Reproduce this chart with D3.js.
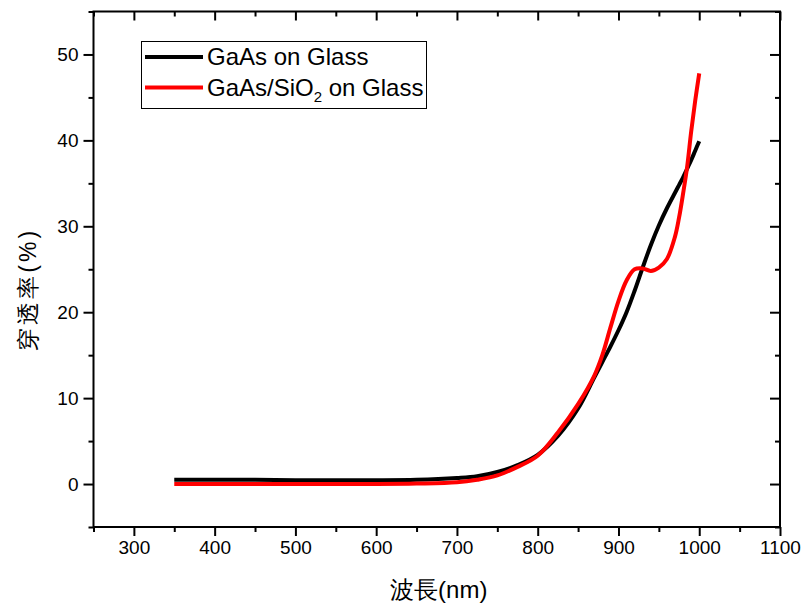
<!DOCTYPE html>
<html>
<head>
<meta charset="utf-8">
<script src="https://cdn.jsdelivr.net/npm/d3@7"></script>
<style>
  body { margin: 0; background: #fff; }
  text { font-family: Arial, "Liberation Sans", sans-serif; }
</style>
</head>
<body>
<script>
// wavelengths (nm) and transmittance (%)
const wavelength = [350, 400, 450, 500, 550, 600, 650, 700, 725, 750, 775, 800, 825, 850, 870, 880, 890, 900, 910, 920, 930, 940, 950, 960, 970, 975, 980, 985, 990, 995, 1000]
const gaasGlass = [0.5, 0.5, 0.5, 0.45, 0.45, 0.45, 0.5, 0.7, 0.9, 1.4, 2.2, 3.4, 5.6, 8.8, 12.4, 14.2, 16.0, 17.9, 20.0, 22.5, 25.2, 27.8, 30.1, 32.1, 33.9, 34.8, 35.7, 36.7, 37.7, 38.8, 39.9]
const gaasSiO2Glass = [0.0, 0.0, 0.0, 0.0, 0.0, 0.0, 0.05, 0.2, 0.5, 1.0, 2.0, 3.3, 6.0, 9.3, 12.6, 15.0, 18.2, 21.3, 23.7, 25.0, 25.1, 24.8, 25.2, 26.2, 28.8, 31.0, 33.8, 36.9, 41.0, 44.6, 47.8]
const seriesNames = ["GaAs on Glass", "GaAs/SiO2 on Glass"]
const seriesColors = ["#000000", "#ff0000"]
const xTicks = [300, 400, 500, 600, 700, 800, 900, 1000, 1100]
const yTicks = [0, 10, 20, 30, 40, 50]

const width = 808
const height = 605
const mLeft = 93.5, mRight = 780, mTop = 11.5, mBottom = 527

const svg = d3.select("body").append("svg")
    .attr("width", width)
    .attr("height", height)

const x = d3.scaleLinear().domain([250, 1100]).range([mLeft, mRight])
const y = d3.scaleLinear().domain([-5, 55]).range([mBottom, mTop])

const xMinor = d3.range(250, 1101, 50).filter(v => v % 100 !== 0)
const yMinor = d3.range(-5, 56, 5).filter(v => v % 10 !== 0)

function styleAxis(g) {
    g.select(".domain").remove()
    g.selectAll("line").attr("stroke", "#000").attr("stroke-width", 2)
    g.selectAll("text").attr("font-size", 19).attr("fill", "#000")
        .attr("font-family", "Arial, 'Liberation Sans', sans-serif")
}

// bottom
svg.append("g").attr("transform", `translate(0,${mBottom})`)
    .call(d3.axisBottom(x).tickValues(xTicks).tickFormat(d3.format("d")).tickSize(9).tickSizeOuter(0).tickPadding(5))
    .call(styleAxis)
svg.append("g").attr("transform", `translate(0,${mBottom})`)
    .call(d3.axisBottom(x).tickValues(xMinor).tickSize(5).tickFormat(""))
    .call(styleAxis)
// top (inward)
svg.append("g").attr("transform", `translate(0,${mTop})`)
    .call(d3.axisTop(x).tickValues(xTicks).tickSize(-9).tickFormat(""))
    .call(styleAxis)
svg.append("g").attr("transform", `translate(0,${mTop})`)
    .call(d3.axisTop(x).tickValues(xMinor).tickSize(-5).tickFormat(""))
    .call(styleAxis)
// left
svg.append("g").attr("transform", `translate(${mLeft},0)`)
    .call(d3.axisLeft(y).tickValues(yTicks).tickFormat(d3.format("d")).tickSize(10).tickSizeOuter(0).tickPadding(5))
    .call(styleAxis)
svg.append("g").attr("transform", `translate(${mLeft},0)`)
    .call(d3.axisLeft(y).tickValues(yMinor).tickSize(5).tickFormat(""))
    .call(styleAxis)
// right (inward)
svg.append("g").attr("transform", `translate(${mRight},0)`)
    .call(d3.axisRight(y).tickValues(yTicks).tickSize(-10).tickFormat(""))
    .call(styleAxis)
svg.append("g").attr("transform", `translate(${mRight},0)`)
    .call(d3.axisRight(y).tickValues(yMinor).tickSize(-5).tickFormat(""))
    .call(styleAxis)

// frame
svg.append("rect")
    .attr("x", mLeft).attr("y", mTop)
    .attr("width", mRight - mLeft).attr("height", mBottom - mTop)
    .attr("fill", "none").attr("stroke", "#000").attr("stroke-width", 2)

const line = d3.line()
    .x((d, i) => x(wavelength[i]))
    .y(d => y(d))
    .curve(d3.curveCatmullRom)

svg.append("path").datum(gaasGlass)
    .attr("d", line).attr("fill", "none")
    .attr("stroke", seriesColors[0]).attr("stroke-width", 4)
svg.append("path").datum(gaasSiO2Glass)
    .attr("d", line).attr("fill", "none")
    .attr("stroke", seriesColors[1]).attr("stroke-width", 4)

// legend
svg.append("rect")
    .attr("x", 141.5).attr("y", 41.5).attr("width", 285).attr("height", 67)
    .attr("fill", "#fff").attr("stroke", "#000").attr("stroke-width", 1)

const legend = svg.append("g")
seriesNames.forEach((name, i) => {
    const ly = 57 + i * 30.5
    legend.append("line")
        .attr("x1", 145).attr("x2", 203).attr("y1", ly).attr("y2", ly)
        .attr("stroke", seriesColors[i]).attr("stroke-width", 4)
    const t = legend.append("text")
        .attr("x", 207).attr("y", ly + 8)
        .attr("font-size", 24).attr("fill", "#000")
    if (name.includes("SiO2")) {
        t.append("tspan").text("GaAs/SiO")
        t.append("tspan").text("2").attr("font-size", 15).attr("dy", 6)
        t.append("tspan").text(" on Glass").attr("dy", -6)
    } else {
        t.text(name)
    }
})

// axis titles
svg.append("text")
    .attr("x", (mLeft + mRight) / 2 + 2).attr("y", 598)
    .attr("text-anchor", "middle").attr("font-size", 24).attr("fill", "#000")
    .text("波長(nm)")

svg.append("text")
    .attr("transform", `translate(36,${(mTop + mBottom) / 2 + 20}) rotate(-90)`)
    .attr("text-anchor", "middle").attr("font-size", 23).attr("fill", "#000")
    .attr("font-family", "'Noto Sans CJK TC', sans-serif")
    .attr("letter-spacing", 3)
    .text("穿透率(%)")
</script>
</body>
</html>
